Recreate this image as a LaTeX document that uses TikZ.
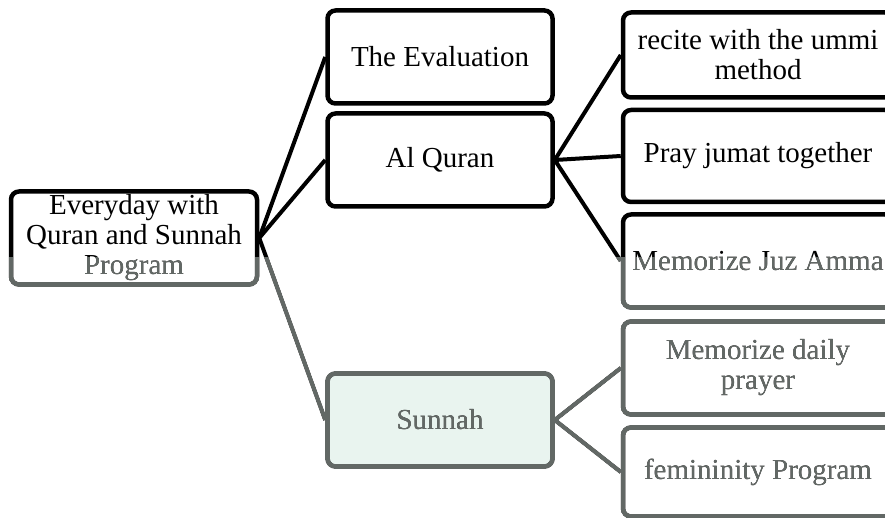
\documentclass[tikz,border=0pt]{standalone}
\usepackage{fontspec}
\setmainfont{Liberation Serif}
\usepackage{tikz}

\definecolor{fadegrey}{RGB}{98,104,101}
\definecolor{sunnahfill}{RGB}{233,244,239}

\begin{document}
\begin{tikzpicture}[x=1pt,y=-1pt]
        \tikzstyle{every node} = [rectangle, draw, line width=4.5pt, rounded corners=8pt,
            align=center, inner sep=0pt, font=\fontsize{29}{30}\selectfont]
        \tikzstyle{link} = [line width=4pt]
        \clip (0,0) rectangle (885,518);
        \fill[white] (0,0) rectangle (885,518);

        \node[minimum width=246, minimum height=93] (root) at (134,238) {Everyday with\\Quran and Sunnah\\Program};

        \node[minimum width=225, minimum height=93] (eval) at (440,57) {The Evaluation};
        \node[minimum width=225, minimum height=93] (quran) at (440,160) {Al Quran};
        \node[minimum width=225, minimum height=93, fill=sunnahfill] (sunnah) at (440,420) {Sunnah};

        \node[minimum width=270, minimum height=85] (recite) at (758,55) {recite with the ummi\\method};
        \node[minimum width=270, minimum height=92] (jumat) at (758,156) {Pray jumat together};
        \node[minimum width=270, minimum height=93] (juz) at (758,261) {Memorize Juz Amma};
        \node[minimum width=270, minimum height=93] (daily) at (758,368) {Memorize daily\\prayer};
        \node[minimum width=270, minimum height=89] (fem) at (758,472) {femininity Program};

        \foreach \from/\to in {root/eval, root/quran, root/sunnah, quran/recite, quran/jumat, quran/juz, sunnah/daily, sunnah/fem}
            \draw[link] (\from.east) -- (\to.west);

        % faded lower part
        \fill[fadegrey, blend mode=lighten] (0,257) rectangle (885,518);
      \end{tikzpicture}
\end{document}
